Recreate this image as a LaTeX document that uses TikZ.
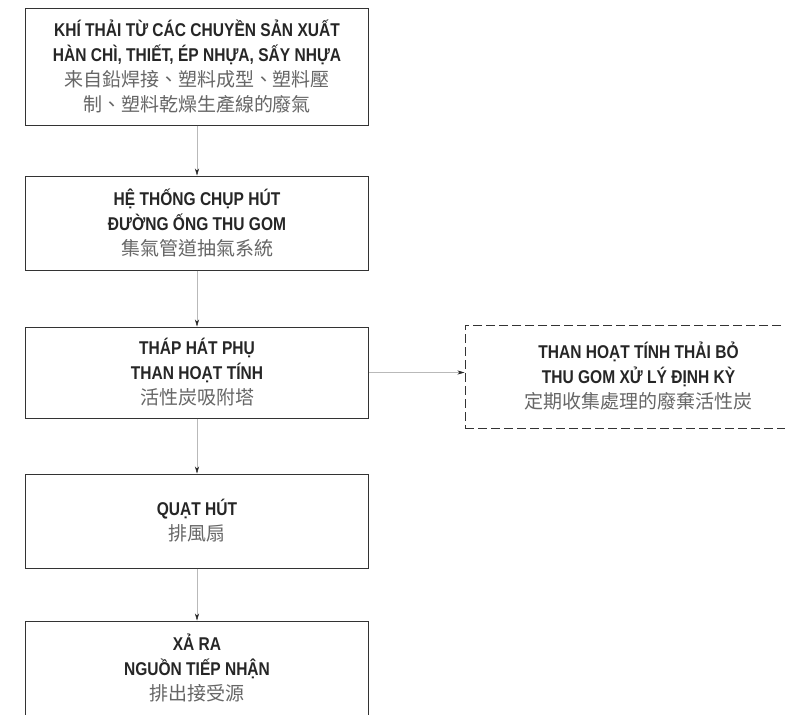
\documentclass[tikz,border=0pt]{standalone}
\usepackage{fontspec}
\usetikzlibrary{arrows.meta}
\setmainfont{Liberation Sans}[FakeStretch=0.84]
\newfontfamily\cjk{Noto Sans CJK TC}
\newcommand{\zh}[1]{{\cjk\mdseries\fontsize{19}{25}\selectfont\color{black!60}#1}}
\tikzset{
  stage/.style={draw=black!80, line width=1pt, minimum width=343pt, align=center,
    inner sep=0pt, font=\fontsize{18.5}{25}\selectfont\bfseries, text=black!85},
  spentbox/.style={stage, dash pattern=on 9pt off 4pt, minimum width=347pt},
  flow/.style={gray!55, thin, -{Stealth[length=7pt,width=4pt,black!85]}}
}
\begin{document}
\begin{tikzpicture}[x=1pt,y=-1pt]
  \useasboundingbox (0,0) rectangle (785,715);
  \fill[white] (0,0) rectangle (785,715);
  \clip (0,0) rectangle (785,715);
  % main line
  \node[stage, minimum height=117pt] (src) at (197,66.5)
    {KHÍ THẢI TỪ CÁC CHUYỀN SẢN XUẤT\\HÀN CHÌ, THIẾT, ÉP NHỰA, SẤY NHỰA\\
     \zh{来自鉛焊接、塑料成型、塑料壓}\\\zh{制、塑料乾燥生產線的廢氣}};
  \node[stage, minimum height=94pt] (hood) at (197,223)
    {HỆ THỐNG CHỤP HÚT\\ĐƯỜNG ỐNG THU GOM\\\zh{集氣管道抽氣系統}};
  \node[stage, minimum height=91pt] (trap) at (197,372.5)
    {THÁP HÁT PHỤ\\THAN HOẠT TÍNH\\\zh{活性炭吸附塔}};
  \node[stage, minimum height=94pt] (fan) at (197,521)
    {QUẠT HÚT\\\zh{排風扇}};
  \node[stage, minimum height=94pt] (out) at (197,668)
    {XẢ RA\\NGUỒN TIẾP NHẬN\\\zh{排出接受源}};
  % side box
  \node[spentbox, minimum height=103pt] (spent) at (638.5,376.5)
    {THAN HOẠT TÍNH THẢI BỎ\\THU GOM XỬ LÝ ĐỊNH KỲ\\\zh{定期收集處理的廢棄活性炭}};
  \draw[flow] (src) -- (hood);
  \draw[flow] (hood) -- (trap);
  \draw[flow] (trap) -- (fan);
  \draw[flow] (fan) -- (out);
  \draw[flow] (trap.east) -- (trap.east -| spent.west);
\end{tikzpicture}
\end{document}
